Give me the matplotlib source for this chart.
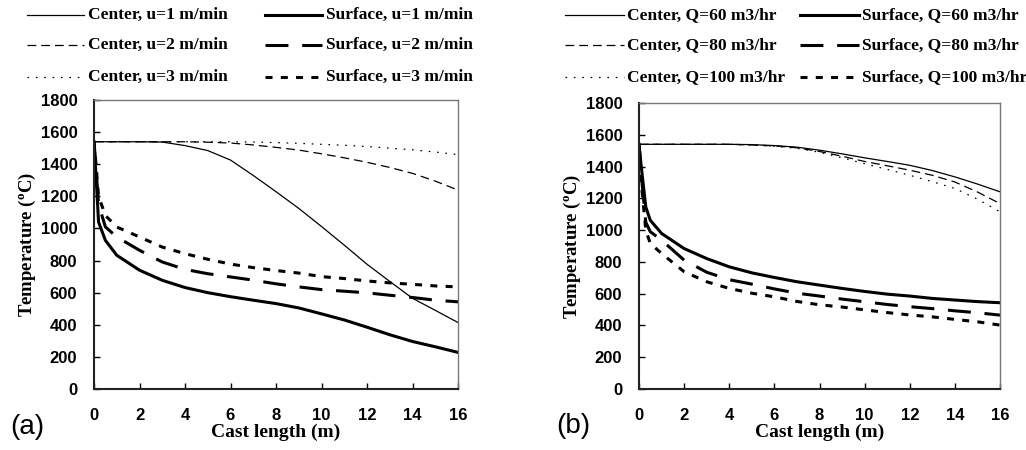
import matplotlib.pyplot as plt
import matplotlib.lines as mlines

# cast length positions (m)
x_a = [0, 0.1, 0.2, 0.5, 1, 2, 3, 4, 5, 6, 7, 8, 9, 10, 11, 12, 13, 14, 15, 16]

# panel (a): casting speed
center_u1 = [1540, 1540, 1540, 1540, 1540, 1540, 1538, 1516, 1485, 1426, 1330, 1229, 1125, 1012, 896, 777, 670, 565, 490, 414]
center_u2 = [1540, 1540, 1540, 1540, 1540, 1540, 1540, 1540, 1537, 1532, 1520, 1505, 1488, 1465, 1440, 1412, 1380, 1343, 1295, 1239]
center_u3 = [1540, 1540, 1540, 1540, 1540, 1540, 1540, 1540, 1540, 1540, 1538, 1535, 1530, 1524, 1518, 1510, 1500, 1490, 1476, 1460]
surface_u1 = [1540, 1300, 1040, 926, 833, 740, 677, 632, 600, 575, 553, 532, 505, 468, 430, 385, 338, 296, 263, 228]
surface_u2 = [1540, 1350, 1150, 1010, 947, 864, 791, 745, 718, 698, 678, 655, 636, 619, 609, 599, 584, 570, 553, 543]
surface_u3 = [1540, 1380, 1200, 1081, 1009, 947, 884, 843, 808, 778, 756, 738, 722, 700, 688, 673, 661, 652, 642, 636]

# panel (b): water flow rate
x_b = [0, 0.1, 0.3, 0.5, 1, 2, 3, 4, 5, 6, 7, 8, 9, 10, 11, 12, 13, 14, 15, 16]
center_q60 = [1540, 1540, 1540, 1540, 1540, 1540, 1540, 1540, 1538, 1532, 1522, 1503, 1480, 1455, 1432, 1408, 1375, 1335, 1290, 1241]
center_q80 = [1540, 1540, 1540, 1540, 1540, 1540, 1540, 1540, 1536, 1530, 1518, 1495, 1465, 1432, 1405, 1377, 1345, 1303, 1240, 1167]
center_q100 = [1540, 1540, 1540, 1540, 1540, 1540, 1540, 1540, 1535, 1528, 1515, 1490, 1455, 1418, 1382, 1345, 1305, 1262, 1195, 1115]
surface_q60 = [1540, 1400, 1146, 1062, 979, 884, 821, 769, 731, 702, 675, 654, 633, 614, 597, 585, 570, 560, 550, 543]
surface_q80 = [1540, 1350, 1050, 990, 937, 811, 735, 688, 660, 630, 603, 585, 566, 549, 532, 518, 506, 492, 480, 465]
surface_q100 = [1540, 1300, 1000, 916, 853, 738, 675, 633, 603, 580, 551, 530, 516, 498, 481, 466, 454, 438, 423, 402]

labels_a = ["Center, u=1 m/min", "Center, u=2 m/min", "Center, u=3 m/min",
            "Surface, u=1 m/min", "Surface, u=2 m/min", "Surface, u=3 m/min"]
labels_b = ["Center, Q=60 m3/hr", "Center, Q=80 m3/hr", "Center, Q=100 m3/hr",
            "Surface, Q=60 m3/hr", "Surface, Q=80 m3/hr", "Surface, Q=100 m3/hr"]

styles = [
    dict(lw=0.9, ls="-"),
    dict(lw=0.9, ls=(0, (7, 4))),
    dict(lw=0.9, ls=(0, (1.3, 5.4))),
    dict(lw=2.2, ls="-"),
    dict(lw=2.2, ls=(0, (7.5, 4.5))),
    dict(lw=2.2, ls=(0, (2.3, 2.7))),
]

serif_bold = dict(family="Liberation Serif", weight="bold")

fig = plt.figure(figsize=(10.26, 4.5), dpi=100)


def draw_panel(ax, x, series, letter):
    for y, st in zip(series, styles):
        ax.plot(x, y, color="black", **st)
    ax.set_xlim(0, 16)
    ax.set_ylim(0, 1800)
    ax.set_xticks(range(0, 17, 2))
    ax.set_yticks(range(0, 1801, 200))
    ax.tick_params(direction="in", length=4, width=1)
    ax.tick_params(axis="x", pad=14)
    ax.tick_params(axis="y", pad=12)
    for lab in ax.get_xticklabels() + ax.get_yticklabels():
        lab.set_family("Liberation Sans")
        lab.set_weight("bold")
        lab.set_fontsize(12)
    for s in ["left", "bottom"]:
        ax.spines[s].set_linewidth(1.5)
        ax.spines[s].set_color("#222222")
    for s in ["top", "right"]:
        ax.spines[s].set_linewidth(1.0)
        ax.spines[s].set_color("#777777")
    ax.set_xlabel("Cast length (m)", fontsize=14, labelpad=0, **serif_bold)
    ax.set_ylabel("Temperature ($\\mathregular{^{o}}$C)", fontsize=13.5, **serif_bold)
    ax.yaxis.set_label_coords(-0.155, 0.5)
    ax.text(-0.23, -0.13, letter, transform=ax.transAxes, fontsize=20,
            family="Liberation Sans", va="center", ha="left")


def draw_legend(labels, col_x, row_y, line_len, text_gap):
    for i, (lab, st) in enumerate(zip(labels, styles)):
        col, row = divmod(i, 3)
        x0 = col_x[col] / 1026
        yy = 1 - row_y[row] / 450
        fig.add_artist(mlines.Line2D([x0, x0 + line_len / 1026], [yy, yy],
                                     color="black", transform=fig.transFigure, **st))
        fig.text(x0 + (line_len + text_gap) / 1026, yy, lab, fontsize=12.5,
                 va="center", ha="left", **serif_bold)


ax1 = fig.add_axes([94 / 1026, 1 - 389 / 450, 364 / 1026, 289 / 450])
draw_panel(ax1, x_a, [center_u1, center_u2, center_u3, surface_u1, surface_u2, surface_u3], "(a)")

ax2 = fig.add_axes([639 / 1026, 1 - 389 / 450, 361 / 1026, 286 / 450])
draw_panel(ax2, x_b, [center_q60, center_q80, center_q100, surface_q60, surface_q80, surface_q100], "(b)")

draw_legend(labels_a, [27, 265], [15, 45, 77], 57, 4)
draw_legend(labels_b, [565, 800], [15, 45, 77], 59, 3)

fig.savefig("out.png", dpi=100)
